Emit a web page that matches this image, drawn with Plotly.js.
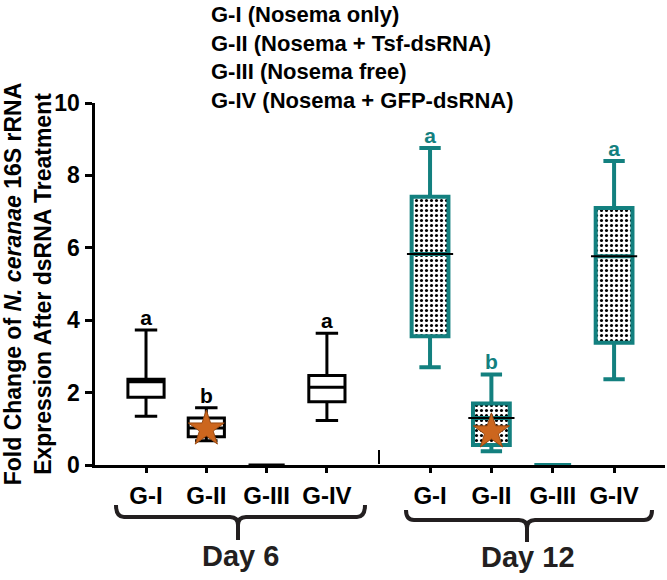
<!DOCTYPE html>
<html><head><meta charset="utf-8">
<script src="https://cdn.plot.ly/plotly-3.0.1.min.js"></script>
<style>html,body{margin:0;padding:0;background:#fff}#chart{width:667px;height:580px}</style>
</head><body><div id="chart"></div>
<script>
// ---------- data ----------
const groups = ["G-I", "G-II", "G-III", "G-IV"];
const legendLines = ["G-I (Nosema only)", "G-II (Nosema + Tsf-dsRNA)", "G-III (Nosema free)", "G-IV (Nosema + GFP-dsRNA)"];
const dayLabels = ["Day 6", "Day 12"];
const yTicks = [0, 2, 4, 6, 8, 10];

// Day 6 box statistics
const d6Lower  = [1.35, 0.67, 0, 1.23];
const d6Q1     = [1.87, 0.78, 0, 1.75];
const d6Median = [2.30, 1.02, 0, 2.15];
const d6Q3     = [2.37, 1.30, 0, 2.47];
const d6Upper  = [3.73, 1.58, 0, 3.64];
const d6Letters = ["a", "b", "", "a"];

// Day 12 box statistics
const d12Lower  = [2.70, 0.38, 0, 2.37];
const d12Q1     = [3.56, 0.55, 0, 3.38];
const d12Median = [5.83, 1.30, 0, 5.77];
const d12Q3     = [7.41, 1.70, 0, 7.10];
const d12Upper  = [8.76, 2.50, 0, 8.40];
const d12Letters = ["a", "b", "", "a"];

// star markers (mean)
const starGroups = ["G-II"];
const d6Star = [1.0];
const d12Star = [0.92];

// ---------- styling ----------
const FONT = "Liberation Sans, Arial, Helvetica, sans-serif";
const TEAL = "#13807f";
const STAR = "#cc661e";
const DARK = "#231f20";

// pixel -> paper helpers (plot area: x 95..665, y 103..465)
const L = 95, R = 2, T = 103, B = 115, W = 667, H = 580;
const PW = W - L - R, PH = H - T - B;
const px = x => (x - L) / PW;
const py = y => (H - B - y) / PH;

const boxW = 0.6;
const nz = (arr, lo, hi) => arr.filter((_, i) => hi[i] > lo[i]);

const traces = [
  // dotted pattern inside Day 12 boxes
  {
    type: "bar", xaxis: "x2", yaxis: "y",
    x: groups, base: d12Q1, y: d12Q3.map((v, i) => v - d12Q1[i]),
    width: boxW * 0.94,
    marker: { color: "#ffffff", line: { width: 0 },
      pattern: { shape: ".", fgcolor: "#000000", bgcolor: "#ffffff", size: 5, solidity: 0.3 } },
    hoverinfo: "skip", showlegend: false
  },
  {
    type: "box", xaxis: "x", yaxis: "y", x: groups,
    q1: d6Q1, median: d6Median, q3: d6Q3, lowerfence: d6Lower, upperfence: d6Upper,
    width: boxW, whiskerwidth: 0.62,
    line: { color: "#000000", width: 3 }, fillcolor: "#ffffff",
    showlegend: false
  },
  {
    type: "box", xaxis: "x2", yaxis: "y", x: groups,
    q1: d12Q1, median: d12Median, q3: d12Q3, lowerfence: d12Lower, upperfence: d12Upper,
    width: boxW, whiskerwidth: 0.58,
    line: { color: TEAL, width: 4 }, fillcolor: "rgba(0,0,0,0)",
    showlegend: false
  },
  // black median lines for Day 12
  {
    type: "scatter", mode: "markers", xaxis: "x2", yaxis: "y",
    x: nz(groups, d12Q1, d12Q3), y: nz(d12Median, d12Q1, d12Q3),
    marker: { symbol: "line-ew", size: 33, line: { color: "#000000", width: 2 } },
    hoverinfo: "skip", showlegend: false
  },
  // stars
  {
    type: "scatter", mode: "markers", xaxis: "x", yaxis: "y",
    x: starGroups, y: d6Star,
    marker: { symbol: "star", size: 27, color: STAR, line: { color: "#9a4a12", width: 1 } },
    showlegend: false
  },
  {
    type: "scatter", mode: "markers", xaxis: "x2", yaxis: "y",
    x: starGroups, y: d12Star,
    marker: { symbol: "star", size: 27, color: STAR, line: { color: "#9a4a12", width: 1 } },
    showlegend: false
  },
  // significance letters
  {
    type: "scatter", mode: "text", xaxis: "x", yaxis: "y",
    x: groups, y: d6Upper, text: d6Letters, textposition: "top center",
    textfont: { family: FONT, size: 21, color: "#000000", weight: "bold" },
    hoverinfo: "skip", showlegend: false, cliponaxis: false
  },
  {
    type: "scatter", mode: "text", xaxis: "x2", yaxis: "y",
    x: groups, y: d12Upper, text: d12Letters, textposition: "top center",
    textfont: { family: FONT, size: 21, color: TEAL, weight: "bold" },
    hoverinfo: "skip", showlegend: false, cliponaxis: false
  }
];

const xCommon = {
  type: "category", categoryorder: "array", categoryarray: groups,
  showline: true, linewidth: 3, linecolor: "#000000",
  ticks: "outside", ticklen: 5, tickwidth: 3, tickcolor: "#000000",
  tickfont: { family: FONT, size: 24, color: "#000000", weight: "bold" },
  ticklabelstandoff: 2,
  showgrid: false, zeroline: false, anchor: "y", fixedrange: true
};

function bracket(x0, x1, xm, yTop, yLine, yStem) {
  const r = 8;
  return `M ${px(x0)},${py(yTop)} Q ${px(x0)},${py(yLine)} ${px(x0 + r)},${py(yLine)} ` +
         `L ${px(xm - r)},${py(yLine)} Q ${px(xm)},${py(yLine)} ${px(xm)},${py(yLine + r)} L ${px(xm)},${py(yStem)} ` +
         `M ${px(xm)},${py(yLine + r)} Q ${px(xm)},${py(yLine)} ${px(xm + r)},${py(yLine)} ` +
         `L ${px(x1 - r)},${py(yLine)} Q ${px(x1)},${py(yLine)} ${px(x1)},${py(yTop)}`;
}

const layout = {
  width: W, height: H,
  margin: { l: L, r: R, t: T, b: B, pad: 0 },
  paper_bgcolor: "#ffffff", plot_bgcolor: "#ffffff",
  font: { family: FONT, color: "#000000" },
  showlegend: false,
  xaxis: Object.assign({}, xCommon, { domain: [0, px(379)], range: [-0.846, 3.864] }),
  xaxis2: Object.assign({}, xCommon, { domain: [px(379), 1], range: [-0.832, 3.83], layer: "below traces" }),
  yaxis: {
    range: [0, 10], tickvals: yTicks, ticktext: yTicks.map(String),
    showline: true, linewidth: 3.5, linecolor: "#000000",
    ticks: "outside", ticklen: 7, tickwidth: 3, tickcolor: "#000000",
    tickfont: { family: FONT, size: 23, color: "#000000", weight: "bold" },
    showgrid: false, zeroline: false, fixedrange: true,
    title: {
      text: "Fold Change of <i>N. ceranae</i> 16S rRNA<br>Expression After dsRNA Treatment",
      font: { family: FONT, size: 23, color: "#000000", weight: "bold" },
      standoff: 4
    }
  },
  annotations: [
    {
      xref: "paper", yref: "paper", x: px(209), y: py(58), xanchor: "left", yanchor: "middle",
      text: legendLines.join("<br>"), align: "left", showarrow: false,
      font: { family: FONT, size: 22, color: "#000000", weight: "bold" }
    },
    {
      xref: "paper", yref: "paper", x: px(240), y: py(556), xanchor: "center", yanchor: "middle",
      text: dayLabels[0], showarrow: false,
      font: { family: FONT, size: 29, color: DARK, weight: "bold" }
    },
    {
      xref: "paper", yref: "paper", x: px(528), y: py(557), xanchor: "center", yanchor: "middle",
      text: dayLabels[1], showarrow: false,
      font: { family: FONT, size: 29, color: DARK, weight: "bold" }
    }
  ],
  shapes: [
    { type: "path", xref: "paper", yref: "paper", path: bracket(116, 365, 238, 505, 517, 540),
      line: { color: DARK, width: 4 } },
    { type: "path", xref: "paper", yref: "paper", path: bracket(406, 652, 527, 510, 520, 542),
      line: { color: DARK, width: 4 } },
    { type: "line", xref: "paper", yref: "paper", x0: px(379), x1: px(379), y0: py(464), y1: py(450),
      line: { color: "#000000", width: 2 } }
  ]
};

Plotly.newPlot("chart", traces, layout, { displayModeBar: false, staticPlot: true });
</script>
</body></html>
